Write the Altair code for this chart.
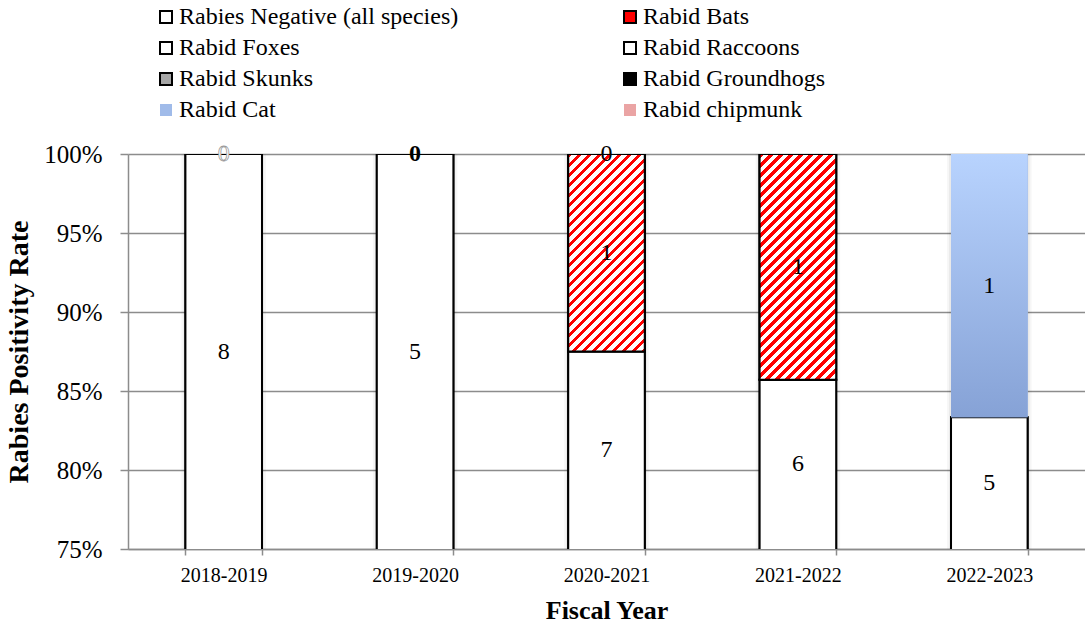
import math
import altair as alt
import pandas as pd

# ---- data -------------------------------------------------------------
years = ["2018-2019", "2019-2020", "2020-2021", "2021-2022", "2022-2023"]

species = [
    "Rabies Negative (all species)",
    "Rabid Bats",
    "Rabid Foxes",
    "Rabid Raccoons",
    "Rabid Skunks",
    "Rabid Groundhogs",
    "Rabid Cat",
    "Rabid chipmunk",
]

negative = [8, 5, 7, 6, 5]
bats = [0, 0, 1, 1, 0]
foxes = [0, 0, 0, 0, 0]
raccoons = [0, 0, 0, 0, 0]
skunks = [0, 0, 0, 0, 0]
groundhogs = [0, 0, 0, 0, 0]
cat = [0, 0, 0, 0, 1]
chipmunk = [0, 0, 0, 0, 0]

counts = [negative, bats, foxes, raccoons, skunks, groundhogs, cat, chipmunk]

# zero-count labels that sit on the top of the stack, with their text style
zero_label_years = ["2018-2019", "2019-2020", "2020-2021"]
zero_label_styles = ["outline", "bold", "plain"]

# ---- styling ----------------------------------------------------------
fills = ["#ffffff", "#ff0000", "#ffffff", "#ffffff", "#a6a6a6", "#000000", "#a0bbe9", "#eaa4a4"]
strokes = ["#000000", "#000000", "#000000", "#000000", "#000000", "#000000", "transparent", "transparent"]

# the legend grid fills column by column, so list the entries in that order
legend_order = [species[i] for i in (0, 2, 4, 6, 1, 3, 5, 7)]
legend_fills = [fills[species.index(s)] for s in legend_order]
legend_strokes = [strokes[species.index(s)] for s in legend_order]

FONT = "Liberation Serif"
GRID = "#8c8c8c"
PLOT_W = 957
PLOT_H = 395
Y_MIN, Y_MAX = 0.75, 1.0
BAR_FRAC = 0.4
BAR_W = PLOT_W / len(years) * BAR_FRAC
STRIPE_PERIOD = 10.0  # px, measured along x + y
STRIPE_RED = 0.45

# ---- stacked shares ---------------------------------------------------
rows = []
for i, yr in enumerate(years):
    total = sum(c[i] for c in counts)
    cum = 0.0
    for s, c in zip(species, counts):
        share = c[i] / total
        y0, y1 = cum, cum + share
        cum = y1
        lo, hi = max(y0, Y_MIN), min(y1, Y_MAX)
        rows.append(
            dict(year=yr, species=s, count=c[i], y0=y0, y1=y1,
                 share=share, mid=(lo + hi) / 2)
        )
df = pd.DataFrame(rows)
seg = df[df["count"] > 0]

top = df.groupby("year", as_index=False)["y1"].max()
stack = df.groupby("year", as_index=False).agg(y0=("y0", "min"), y1=("y1", "max"))
zl = pd.DataFrame({"year": zero_label_years, "style": zero_label_styles})
zl = zl.merge(top, on="year")
zl["label"] = "0"

x_enc = alt.X(
    "year:N",
    sort=years,
    scale=alt.Scale(paddingInner=1 - BAR_FRAC, paddingOuter=(1 - BAR_FRAC) / 2),
    axis=alt.Axis(
        title="Fiscal Year", tickBand="extent", labelAngle=0, labelFontSize=20,
        labelPadding=10, titleFontSize=26, titlePadding=12, titleFontWeight="bold",
        tickSize=6, grid=False,
    ),
)
y_scale = alt.Scale(domain=[Y_MIN, Y_MAX], nice=False, zero=False)
y_enc = alt.Y(
    "y0:Q",
    scale=y_scale,
    axis=alt.Axis(
        title="Rabies Positivity Rate", format=".0%",
        values=[0.75, 0.8, 0.85, 0.9, 0.95, 1.0],
        labelFontSize=25, labelPadding=18, tickSize=8,
        titleFontSize=28, titleFontWeight="bold", titlePadding=10,
    ),
)

legend = alt.Legend(
    title=None, orient="none", legendX=26, legendY=-149, columns=2,
    columnPadding=159, rowPadding=7, symbolType="square", symbolSize=144,
    symbolStrokeWidth=2, labelOffset=1, labelLimit=400,
)
fill_scale = alt.Scale(domain=legend_order, range=legend_fills)
stroke_scale = alt.Scale(domain=legend_order, range=legend_strokes)

x_plain = alt.X("year:N", sort=years)

# soft shadow behind each stacked column
shadows = [
    alt.Chart(stack).mark_bar(size=BAR_W + 8, color="#000000", opacity=0.035, clip=True)
    .encode(x=x_plain, y="y0:Q", y2="y1:Q"),
    alt.Chart(stack).mark_bar(size=BAR_W + 4, color="#000000", opacity=0.05, clip=True)
    .encode(x=x_plain, y="y0:Q", y2="y1:Q"),
]

bars = alt.Chart(seg).mark_bar(strokeWidth=2, clip=True).encode(
    x=x_enc,
    y=y_enc,
    y2="y1:Q",
    fill=alt.Fill("species:N", scale=fill_scale, legend=legend),
    stroke=alt.Stroke("species:N", scale=stroke_scale, legend=legend),
)

layers = [bars] + shadows + [bars.encode(fill=alt.Fill("species:N", scale=fill_scale, legend=None),
                                         stroke=alt.Stroke("species:N", scale=stroke_scale, legend=None))]

# diagonal red hatching for the bat segments, built as a hard-stop gradient
for yr in years:
    row = seg[(seg["year"] == yr) & (seg["species"] == "Rabid Bats")]
    if row.empty:
        continue
    h = row["share"].iloc[0] * PLOT_H / (Y_MAX - Y_MIN)
    w = BAR_W
    a = w / h
    k = (a + 1) / (a * a + 1)
    dt = STRIPE_PERIOD / (w + h)
    stops = []
    n = math.ceil(1 / dt)
    for j in range(n):
        s0 = min(j * dt, 1.0)
        s1 = min(j * dt + STRIPE_RED * dt, 1.0)
        s2 = min((j + 1) * dt, 1.0)
        stops += [
            alt.GradientStop(offset=s0, color="#ff0000"),
            alt.GradientStop(offset=s1, color="#ff0000"),
            alt.GradientStop(offset=s1, color="#ffffff"),
            alt.GradientStop(offset=s2, color="#ffffff"),
        ]
    grad = alt.LinearGradient(gradient="linear", stops=stops, x1=0, y1=0, x2=a * k, y2=k)
    layers.append(
        alt.Chart(row).mark_bar(fill=grad, stroke="black", strokeWidth=2, clip=True)
        .encode(x=x_plain, y="y0:Q", y2="y1:Q")
    )

# vertical blue gradient for the cat segment
cat_grad = alt.LinearGradient(
    gradient="linear", x1=0, y1=0, x2=0, y2=1,
    stops=[alt.GradientStop(offset=0, color="#b8d3fe"),
           alt.GradientStop(offset=1, color="#86a2d6")],
)
layers.append(
    alt.Chart(seg[seg["species"] == "Rabid Cat"]).mark_bar(fill=cat_grad, clip=True)
    .encode(x=x_plain, y="y0:Q", y2="y1:Q")
)

# count labels in the middle of each visible segment
layers.append(
    alt.Chart(seg).mark_text(font=FONT, fontSize=24, color="black", baseline="middle")
    .encode(x=x_plain, y="mid:Q", text="count:Q")
)

# zero labels on top of the stacks
zl_styles = {
    "outline": dict(fill="white", stroke="#9a9a9a", strokeWidth=0.8),
    "bold": dict(fill="black", fontWeight="bold"),
    "plain": dict(fill="black"),
}
for style, kw in zl_styles.items():
    layers.append(
        alt.Chart(zl[zl["style"] == style]).mark_text(
            font=FONT, fontSize=24, baseline="middle", **kw
        ).encode(x=x_plain, y="y1:Q", text="label:N")
    )

chart = (
    alt.layer(*layers)
    .properties(
        width=PLOT_W, height=PLOT_H,
        padding={"left": 128, "top": 154, "right": 0, "bottom": 75},
        autosize=alt.AutoSizeParams(type="none"),
        background="white",
    )
    .configure_view(stroke=None)
    .configure_axis(
        labelFont=FONT, titleFont=FONT, labelColor="black", titleColor="black",
        domainColor=GRID, domainWidth=1.5, tickColor=GRID, tickWidth=1.5,
        gridColor=GRID, gridWidth=1.5,
    )
    .configure_legend(labelFont=FONT, labelFontSize=24, labelColor="black")
    .configure_text(font=FONT)
)

chart.save("out.html", embed_options={"renderer": "svg", "actions": False})
